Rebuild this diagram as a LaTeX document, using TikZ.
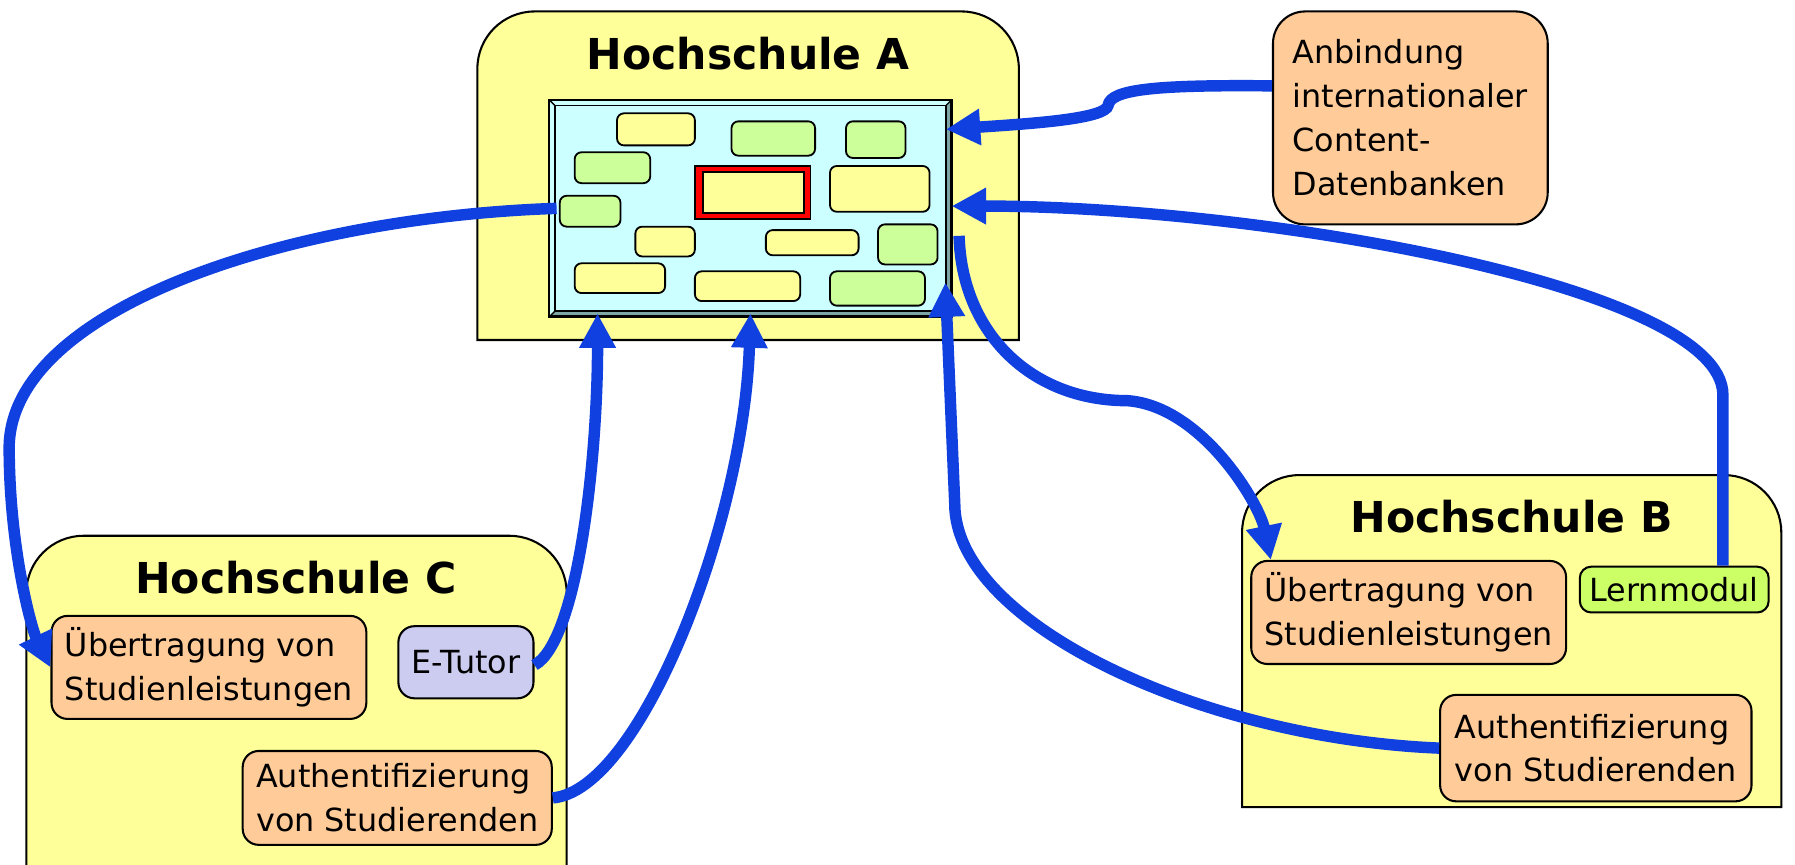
\documentclass[tikz,border=0pt]{standalone}
\usepackage{fontspec}
\setmainfont{DejaVu Sans}
\usepackage{tikz}
\usetikzlibrary{arrows.meta,calc}
\definecolor{gelb}{HTML}{FFFF99}
\definecolor{pfirsich}{HTML}{FFCC99}
\definecolor{gruen}{HTML}{CCFF99}
\definecolor{lerngruen}{HTML}{CCFF66}
\definecolor{lila}{HTML}{CCCCF0}
\definecolor{hellcyan}{HTML}{CCFFFF}
\definecolor{rand}{HTML}{7FA6A6}
\definecolor{blau}{RGB}{16,64,224}

\begin{document}
\begin{tikzpicture}[x=0.5pt,y=-0.5pt,>={Triangle[length=15pt,width=15pt]},font=\fontsize{13.9}{19.2}\selectfont]

\tikzstyle{schule}=[draw=black,fill=gelb,line width=0.9pt]
\tikzstyle{titel}=[anchor=base,font=\fontsize{18.6}{22}\selectfont\bfseries]
\tikzstyle{feld}=[draw=black,fill=pfirsich,rounded corners=7pt,line width=0.9pt,align=left,inner sep=0pt]
\tikzstyle{kachel}=[draw=black,rounded corners=3pt,line width=0.8pt]
\tikzstyle{pfeil}=[->,draw=blau,line width=5pt]

    \path[use as bounding box, clip] (0,0) rectangle (1568,755);
    \fill[white] (0,0) rectangle (1568,755);

    % Hochschulen
    \draw[schule] (417,297) -- (417,60) arc[start angle=180,end angle=90,radius=25pt]
        -- (840,10) arc[start angle=90,end angle=0,radius=25pt] -- (890,297) -- cycle;
    \draw[schule] (1085,705) -- (1085,465) arc[start angle=180,end angle=90,radius=25pt]
        -- (1506,415) arc[start angle=90,end angle=0,radius=25pt] -- (1556,705) -- cycle;
    \draw[schule] (23,800) -- (23,518) arc[start angle=180,end angle=90,radius=25pt]
        -- (445,468) arc[start angle=90,end angle=0,radius=25pt] -- (495,800) -- cycle;
    \node[titel] (tA) at (653.5,61) {Hochschule A};
    \node[titel] (tB) at (1320.5,465) {Hochschule B};
    \node[titel] (tC) at (258.5,518) {Hochschule C};

    % Content-Pool
    \node[draw,fill=rand,line width=0.8pt,minimum width=175pt,minimum height=94pt,inner sep=0pt] (board) at (655.5,182) {};
    \coordinate (i1) at ($(board.north west)+(5,5)$);
    \coordinate (i3) at ($(board.south east)+(-5,-5)$);
    \fill[hellcyan] (board.north west) -- (board.north east) -- (i1 -| i3) -- (i1) -- (i1 |- i3) -- (board.south west) -- cycle;
    \draw[fill=hellcyan,line width=0.8pt] (i1) rectangle (i3);
    \draw[line width=0.6pt] (board.north west) -- (i1) (board.north east) -- (i1 -| i3)
        (board.south west) -- (i1 |- i3) (board.south east) -- (i3);
    \draw[line width=0.8pt] (board.north west) rectangle (board.south east);
    \foreach \xa/\ya/\xb/\yb/\farbe in {539/99/607/127/gelb, 639/106/712/136/gruen, 739/106/791/138/gruen,
        502/133/568/160/gruen, 725/145/812/185/gelb, 489/171/542/198/gruen, 555/198/607/224/gelb,
        669/201/750/223/gelb, 767/196/819/231/gruen, 502/230/581/256/gelb, 607/237/699/263/gelb,
        725/237/808/267/gruen}
        \draw[kachel,fill=\farbe] (\xa,\ya) rectangle (\xb,\yb);
    \draw[fill=red,line width=0.8pt] (607,145) rectangle (708,191);
    \draw[fill=gelb,line width=0.8pt] (614,150) rectangle (702,186);

    % Felder
    \node[feld,rounded corners=14pt,minimum width=120pt,minimum height=93pt] (anb) at (1232,103) {Anbindung\\internationaler\\Content-\\Datenbanken};
    \node[feld,minimum width=137.5pt,minimum height=45pt] (uebC) at (182.5,583) {Übertragung von\\Studienleistungen};
    \node[feld,fill=lila,minimum width=59pt,minimum height=31.5pt] (tutor) at (407,578.5) {E-Tutor};
    \node[feld,minimum width=135pt,minimum height=41pt] (authC) at (347,697) {Authentifizierung\\von Studierenden};
    \node[feld,minimum width=137.5pt,minimum height=45pt] (uebB) at (1230.5,535) {Übertragung von\\Studienleistungen};
    \node[feld,fill=lerngruen,rounded corners=5pt,minimum width=82.5pt,minimum height=20pt] (lern) at (1462.5,515) {Lernmodul};
    \node[feld,minimum width=136pt,minimum height=46.5pt] (authB) at (1394,653.5) {Authentifizierung\\von Studierenden};

    % Pfeile
    \draw[pfeil] ($(anb.west)+(0,-28)$) .. controls (1010,74) and (970,78) .. (968,92)
        .. controls (966,104) and (900,108) .. ($(board.east)+(-5,-69)$);
    \draw[pfeil] ($(lern.north)+(42.5,0)$) -- (1505,345) .. controls (1505,250) and (1100,180) .. ($(board.east)+(0,-2)$);
    \draw[pfeil] ($(board.east)+(6.5,24)$) .. controls (840,290) and (900,350) .. (985,350)
        .. controls (1050,355) and (1100,440) .. ($(uebB.north west)+(18,0)$);
    \draw[pfeil] (authB.west) .. controls (1050,645) and (834,545) .. (834,440) -- ($(board.south east)+(-5.5,-30)$);
    \draw[pfeil] ($(board.west)+(6.5,0)$) .. controls (250,190) and (10,270) .. (8,390)
        .. controls (8,480) and (28,550) .. (uebC.west);
    \draw[pfeil] ($(tutor.east)+(0,2.5)$) .. controls (505,560) and (522,400) .. ($(board.south)+(-133.5,-3)$);
    \draw[pfeil] (authC.east) .. controls (560,690) and (650,455) .. ($(board.south)+(0,-3)$);
\end{tikzpicture}
\end{document}
